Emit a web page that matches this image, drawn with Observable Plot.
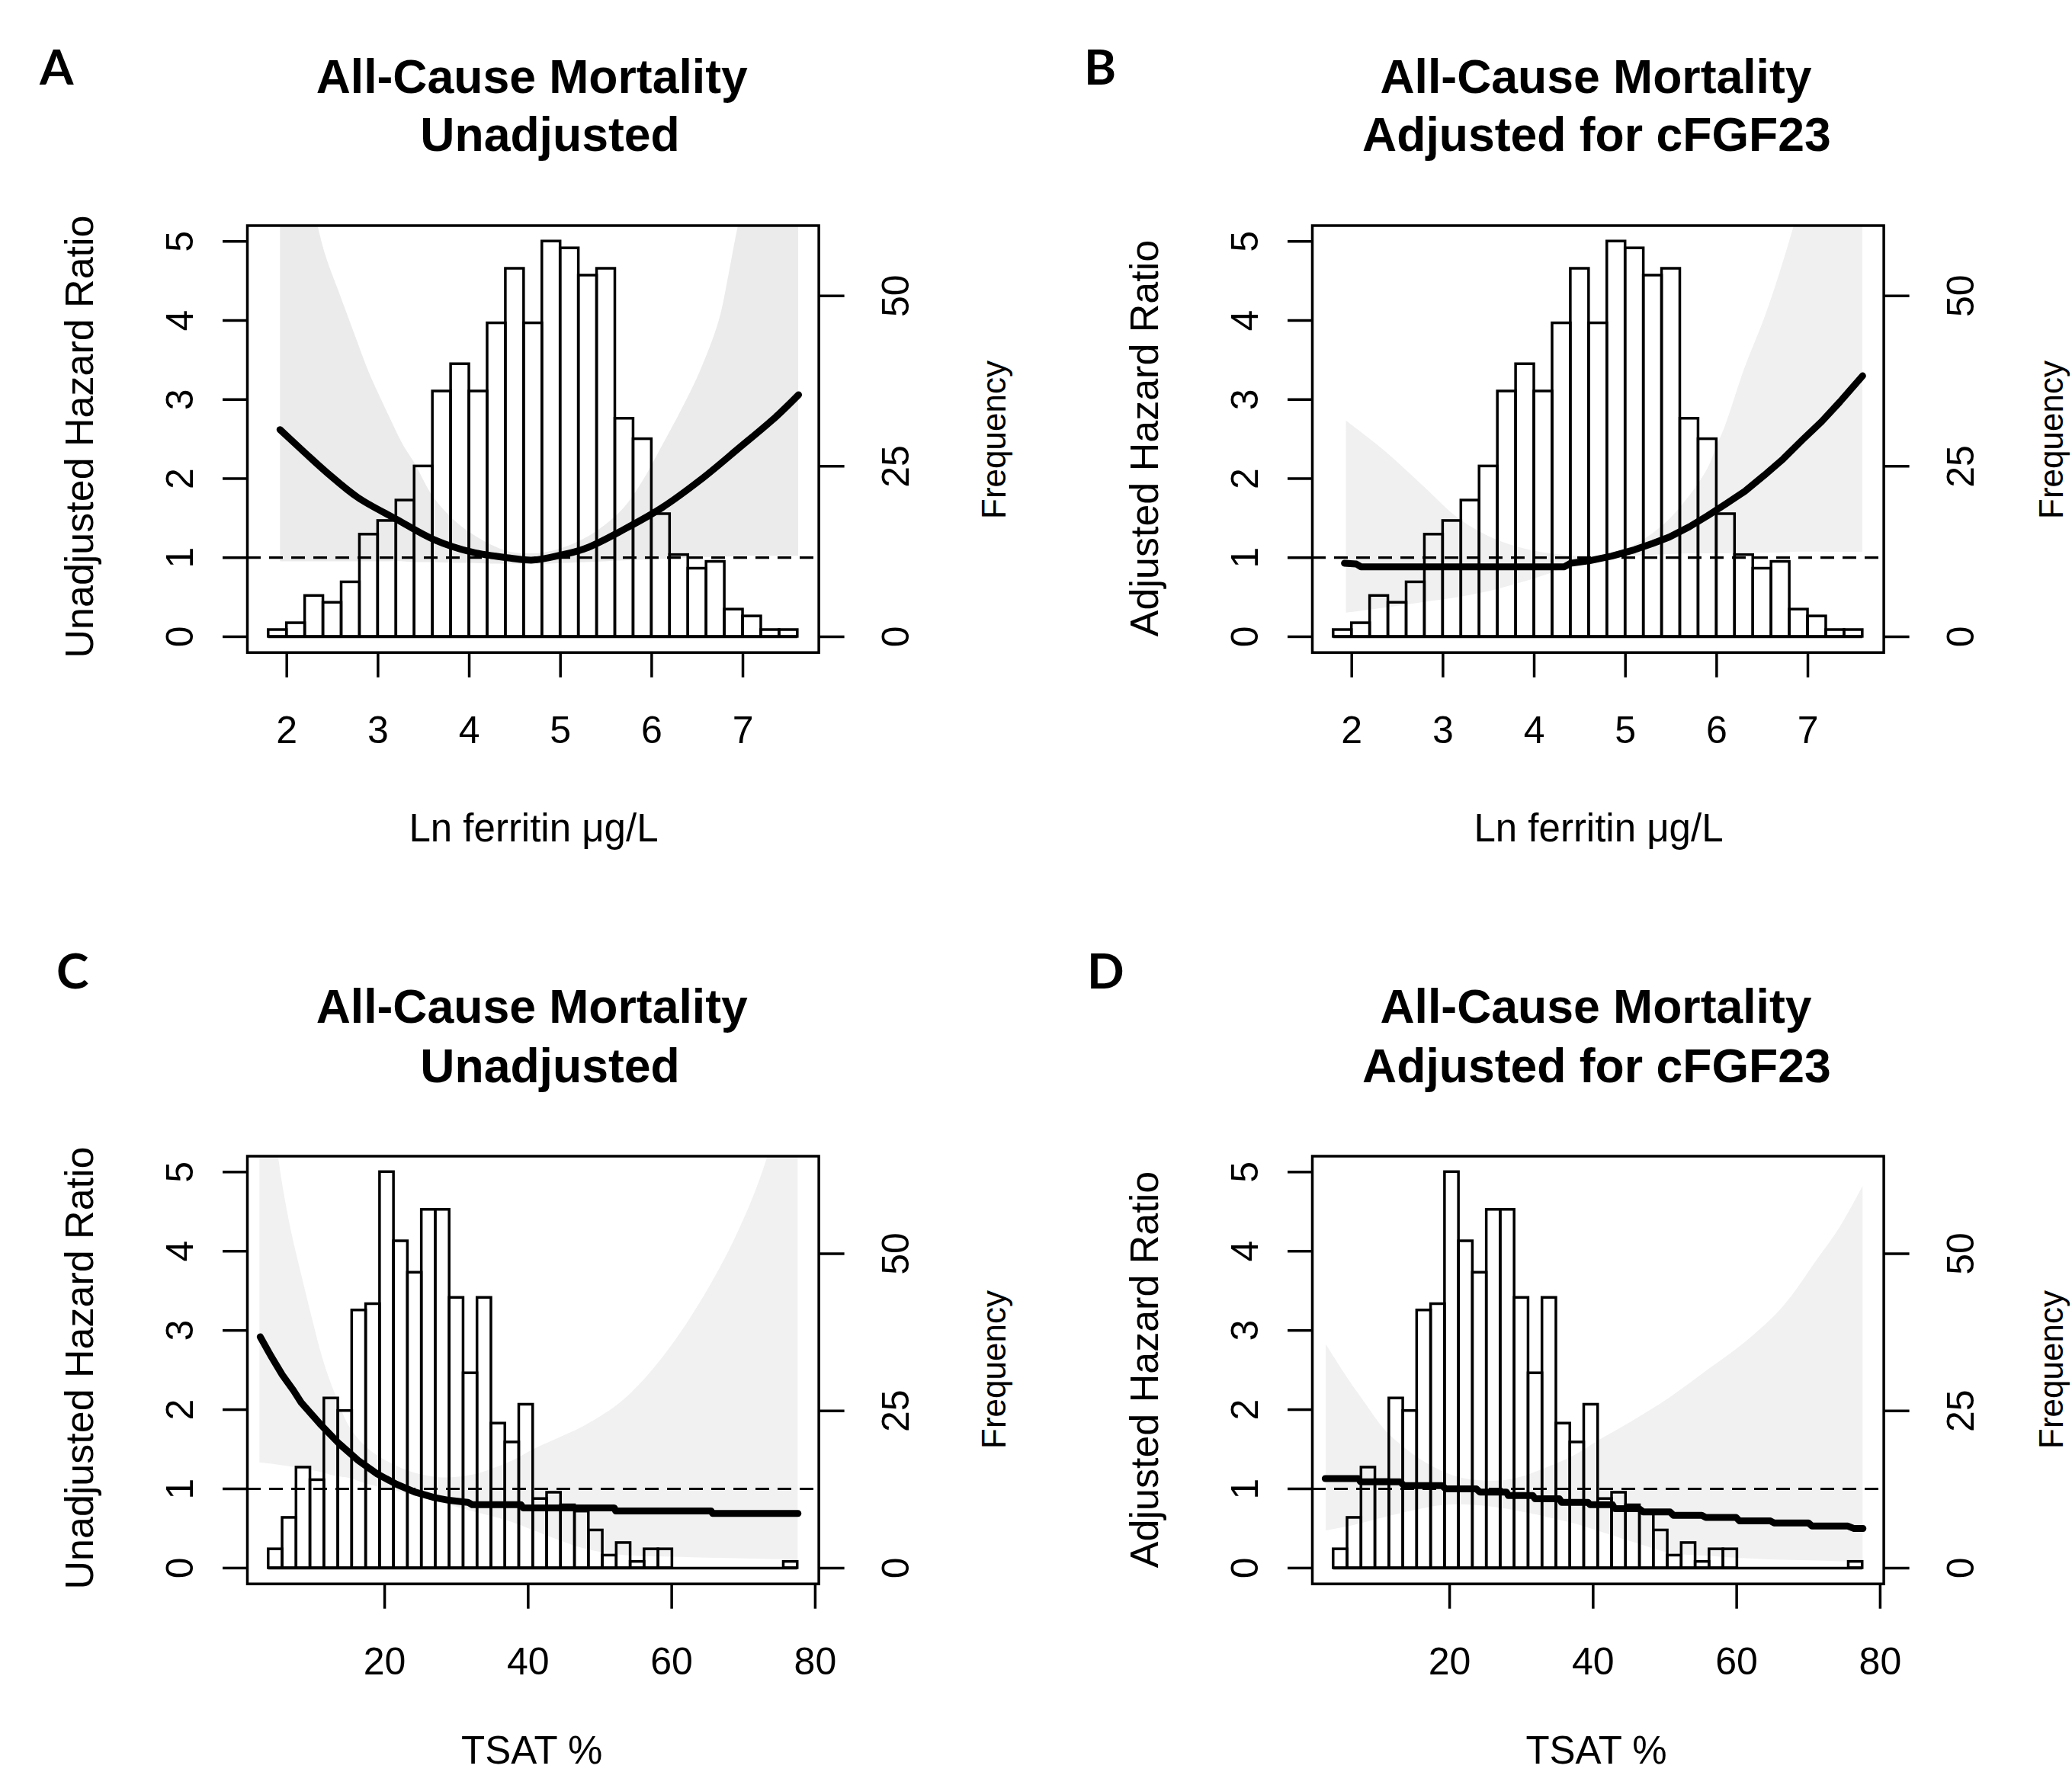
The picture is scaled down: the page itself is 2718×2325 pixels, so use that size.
<!DOCTYPE html>
<html>
<head>
<meta charset="utf-8">
<script src="https://cdn.jsdelivr.net/npm/d3@7"></script>
<script src="https://cdn.jsdelivr.net/npm/@observablehq/plot@0.6"></script>
<style>
html, body { margin: 0; padding: 0; background: #fff; }
#fig { position: relative; width: 2718px; height: 2325px; overflow: hidden; background: #fff; }
#fig > svg { position: absolute; }
</style>
</head>
<body>
<div id="fig"></div>
<script>
// ---------- data ----------
const hrTicks = [0, 1, 2, 3, 4, 5];
const freqTicks = [0, 25, 50];
const ferritinTicks = [2, 3, 4, 5, 6, 7];
const tsatTicks = [20, 40, 60, 80];

// histograms (counts)
const ferritinBinStart = 1.8, ferritinBinWidth = 0.2;
const ferritinCounts = [1, 2, 6, 5, 8, 15, 17, 20, 25, 36, 40, 36, 46, 54, 46, 58, 57, 53, 54, 32, 29, 18, 12, 10, 11, 4, 3, 1, 1];
const tsatBinStart = 3.82, tsatBinWidth = 1.94;
const tsatCounts = [3, 8, 16, 14, 27, 25, 41, 42, 63, 52, 47, 57, 57, 43, 31, 43, 23, 20, 26, 11, 12, 10, 9, 6, 2, 4, 1, 3, 3, 0, 0, 0, 0, 0, 0, 0, 0, 1];

// A: unadjusted, ferritin
const curveA_x  = [1.925, 2.196, 2.446, 2.78, 3.196, 3.61, 4.03, 4.45, 4.70, 4.99, 5.28, 5.70, 6.11, 6.53, 6.95, 7.36, 7.61];
const curveA_hr = [2.62, 2.33, 2.07, 1.76, 1.49, 1.23, 1.07, 0.995, 0.97, 1.03, 1.12, 1.36, 1.63, 1.98, 2.38, 2.78, 3.06];
const bandA_x  = [1.93, 2.10, 2.34, 2.43, 2.57, 2.74, 2.90, 3.11, 3.28, 3.40, 3.61, 3.82, 4.03, 4.24, 4.45, 4.70, 4.86, 5.07, 5.28, 5.49, 5.70, 5.90, 6.11, 6.32, 6.53, 6.74, 6.85, 6.95, 7.20, 7.61];
const bandA_hi = [8.0, 6.4, 5.2, 4.81, 4.37, 3.84, 3.35, 2.82, 2.42, 2.20, 1.76, 1.49, 1.30, 1.16, 1.07, 1.05, 1.07, 1.14, 1.25, 1.41, 1.63, 1.96, 2.40, 2.85, 3.35, 4.00, 4.60, 5.20, 6.40, 8.50];
const bandA_lo = [0.95, 0.95, 0.95, 0.95, 0.95, 0.95, 0.95, 0.95, 0.95, 0.94, 0.94, 0.93, 0.93, 0.92, 0.92, 0.92, 0.92, 0.93, 0.94, 0.95, 0.96, 0.97, 0.98, 0.99, 1.00, 1.01, 1.01, 1.02, 1.02, 1.02];

// B: adjusted, ferritin
const curveB_x  = [1.92, 2.05, 2.10, 4.33, 4.40, 4.60, 4.85, 5.10, 5.30, 5.48, 5.70, 5.90, 6.10, 6.31, 6.52, 6.73, 6.94, 7.15, 7.35, 7.60];
const curveB_hr = [0.93, 0.92, 0.885, 0.885, 0.93, 0.96, 1.02, 1.10, 1.18, 1.26, 1.39, 1.53, 1.68, 1.84, 2.04, 2.25, 2.49, 2.72, 2.97, 3.30];
const bandB_x  = [1.94, 2.35, 2.77, 3.19, 3.60, 4.02, 4.44, 4.70, 4.85, 5.07, 5.27, 5.48, 5.69, 5.90, 6.00, 6.10, 6.31, 6.52, 6.69, 6.85, 7.20, 7.60];
const bandB_hi = [2.73, 2.36, 1.92, 1.48, 1.22, 1.08, 1.02, 1.01, 1.05, 1.14, 1.28, 1.48, 1.76, 2.12, 2.40, 2.68, 3.40, 4.01, 4.59, 5.20, 6.60, 8.50];
const bandB_lo = [0.30, 0.36, 0.43, 0.50, 0.60, 0.74, 0.90, 0.97, 1.00, 1.02, 1.03, 1.04, 1.05, 1.05, 1.05, 1.05, 1.06, 1.06, 1.06, 1.07, 1.07, 1.07];

// C: unadjusted, TSAT
const curveC_x  = [2.66, 4.14, 5.73, 7.31, 8.37, 11.0, 13.66, 16.3, 18.94, 21.6, 24.2, 26.9, 29.0, 31.6, 32.2, 39.0, 39.3, 52.0, 52.2, 65.5, 65.7, 77.6];
const curveC_hr = [2.92, 2.68, 2.44, 2.24, 2.09, 1.82, 1.57, 1.36, 1.19, 1.06, 0.96, 0.89, 0.855, 0.83, 0.80, 0.80, 0.76, 0.76, 0.72, 0.72, 0.69, 0.69];
const bandC_x  = [2.6, 4.5, 5.2, 6.8, 8.4, 10.0, 11.5, 13.1, 15.2, 17.9, 21.6, 24.2, 28.0, 32.0, 35.0, 38.0, 40.6, 44.0, 48.0, 53.3, 58.6, 63.9, 69.2, 73.4, 77.6];
const bandC_hi = [9.0, 6.0, 5.2, 4.34, 3.71, 3.12, 2.61, 2.20, 1.77, 1.49, 1.29, 1.20, 1.14, 1.17, 1.25, 1.36, 1.49, 1.63, 1.80, 2.12, 2.64, 3.34, 4.23, 5.2, 6.8];
const bandC_lo = [1.33, 1.31, 1.30, 1.28, 1.26, 1.23, 1.20, 1.16, 1.13, 1.05, 0.97, 0.91, 0.82, 0.72, 0.65, 0.57, 0.48, 0.36, 0.24, 0.16, 0.14, 0.13, 0.12, 0.11, 0.10];

// D: adjusted, TSAT
const curveD_x  = [2.66, 7.31, 7.58, 13.1, 13.66, 18.94, 19.47, 23.7, 24.2, 27.9, 28.2, 31.6, 31.9, 35.3, 35.6, 39.3, 39.56, 42.7, 43.0, 46.4, 46.96, 50.7, 51.2, 55.15, 55.7, 59.9, 60.4, 64.7, 65.2, 70.0, 70.5, 75.5, 76.3, 77.6];
const curveD_hr = [1.13, 1.13, 1.09, 1.09, 1.04, 1.04, 1.00, 1.00, 0.96, 0.96, 0.915, 0.915, 0.875, 0.875, 0.83, 0.83, 0.80, 0.80, 0.75, 0.75, 0.71, 0.71, 0.665, 0.665, 0.64, 0.64, 0.595, 0.595, 0.57, 0.57, 0.53, 0.53, 0.50, 0.50];
const bandD_x  = [2.8, 5.7, 8.4, 11.0, 13.7, 16.3, 19.0, 22.0, 26.9, 30.0, 32.2, 35.0, 37.4, 40.6, 45.4, 50.7, 56.0, 61.2, 66.5, 71.3, 74.4, 77.6];
const bandD_hi = [2.82, 2.41, 2.06, 1.74, 1.52, 1.35, 1.22, 1.13, 1.10, 1.15, 1.22, 1.32, 1.42, 1.60, 1.85, 2.15, 2.50, 2.85, 3.30, 3.90, 4.30, 4.82];
const bandD_lo = [0.47, 0.52, 0.58, 0.64, 0.70, 0.75, 0.79, 0.80, 0.76, 0.71, 0.67, 0.61, 0.56, 0.47, 0.33, 0.19, 0.15, 0.12, 0.10, 0.09, 0.08, 0.07];

// ---------- helpers ----------
const FONT = "'Liberation Sans', Arial, sans-serif";
function rows(xs, ...cols) {
  return xs.map((x, i) => { const r = {x}; cols.forEach(([k, a]) => r[k] = a[i]); return r; });
}
function histRows(start, width, counts, maxCount) {
  return counts.map((c, i) => ({x1: start + i * width, x2: start + (i + 1) * width, c, h: c * 5 / maxCount}))
               .filter(d => d.c > 0);
}

function panel(opt) {
  const W = 1280, H = 820;
  const frameTop = opt.frameTop, frameBottom = opt.frameBottom;
  const mt = 95.5;
  const mb = H - mt - (frameBottom - frameTop);
  const maxCount = d3.max(opt.counts);
  const bins = histRows(opt.binStart, opt.binWidth, opt.counts, maxCount);
  const histEnd = opt.binStart + opt.counts.length * opt.binWidth;
  const chart = Plot.plot({
    width: W, height: H,
    marginLeft: 324, marginRight: W - 1073.6, marginTop: mt, marginBottom: mb,
    x: {domain: opt.xDomain},
    y: {domain: [-0.2, 5.2]},
    style: {background: "transparent", fontFamily: FONT, color: "black", overflow: "visible"},
    marks: [
      Plot.areaY(opt.band, {x: "x", y1: "lo", y2: "hi", fill: opt.bandFill, curve: "catmull-rom", clip: true}),
      Plot.rect(bins, {x1: "x1", x2: "x2", y1: 0, y2: "h", fill: "none", stroke: "black", strokeWidth: 3.5}),
      Plot.ruleY([0], {x1: opt.binStart, x2: histEnd, stroke: "black", strokeWidth: 3.5}),
      Plot.ruleY([1], {stroke: "black", strokeWidth: 3.2, strokeDasharray: "18,11"}),
      Plot.line(opt.curve, {x: "x", y: "hr", stroke: "black", strokeWidth: 9, curve: opt.curveType, strokeLinecap: "round", strokeLinejoin: "round"}),
      Plot.frame({stroke: "black", strokeWidth: 3.5}),
      Plot.axisX({ticks: opt.xTicks, tickSize: 33, tickPadding: 50, fontSize: 50, label: null, strokeWidth: 3.5, tickFormat: d => String(d)}),
      Plot.axisY({anchor: "left", ticks: hrTicks, tickSize: 32, tickFormat: () => "", label: null, strokeWidth: 3.5}),
      Plot.text(hrTicks, {y: d => d, text: d => String(d), frameAnchor: "left", textAnchor: "middle", lineAnchor: "middle", dx: -88, rotate: -90, fontSize: 50}),
      Plot.axisY({anchor: "right", ticks: freqTicks.map(c => c * 5 / maxCount), tickSize: 33, tickFormat: () => "", label: null, strokeWidth: 3.5}),
      Plot.text(freqTicks, {y: c => c * 5 / maxCount, text: c => String(c), frameAnchor: "right", textAnchor: "middle", lineAnchor: "middle", dx: 102, rotate: -90, fontSize: 50})
    ]
  });
  chart.style.left = opt.left + "px";
  chart.style.top = (frameTop - mt) + "px";
  document.getElementById("fig").appendChild(chart);
}

const ferritinDomain = [1.568, 7.832];
const tsatDomain = [0.87, 80.5];

panel({left: 0, frameTop: 295.5, frameBottom: 855.7, xDomain: ferritinDomain, xTicks: ferritinTicks,
  binStart: ferritinBinStart, binWidth: ferritinBinWidth, counts: ferritinCounts,
  curve: rows(curveA_x, ["hr", curveA_hr]), curveType: "catmull-rom",
  band: rows(bandA_x, ["lo", bandA_lo], ["hi", bandA_hi]), bandFill: "#ebebeb"});
panel({left: 1397, frameTop: 295.5, frameBottom: 855.7, xDomain: ferritinDomain, xTicks: ferritinTicks,
  binStart: ferritinBinStart, binWidth: ferritinBinWidth, counts: ferritinCounts,
  curve: rows(curveB_x, ["hr", curveB_hr]), curveType: "linear",
  band: rows(bandB_x, ["lo", bandB_lo], ["hi", bandB_hi]), bandFill: "#f0f0f0"});
panel({left: 0, frameTop: 1516, frameBottom: 2077.2, xDomain: tsatDomain, xTicks: tsatTicks,
  binStart: tsatBinStart, binWidth: tsatBinWidth, counts: tsatCounts,
  curve: rows(curveC_x, ["hr", curveC_hr]), curveType: "linear",
  band: rows(bandC_x, ["lo", bandC_lo], ["hi", bandC_hi]), bandFill: "#f1f1f1"});
panel({left: 1397, frameTop: 1516, frameBottom: 2077.2, xDomain: tsatDomain, xTicks: tsatTicks,
  binStart: tsatBinStart, binWidth: tsatBinWidth, counts: tsatCounts,
  curve: rows(curveD_x, ["hr", curveD_hr]), curveType: "linear",
  band: rows(bandD_x, ["lo", bandD_lo], ["hi", bandD_hi]), bandFill: "#f1f1f1"});

// ---------- titles and axis labels ----------
const panelLetters = [
  {t: "A", x: 52, y: 111}, {t: "B", x: 1422, y: 111},
  {t: "C", x: 74, y: 1297}, {t: "D", x: 1426, y: 1297}
];
const titleLines = [
  {t: "All-Cause Mortality", x: 697.7, y: 122}, {t: "Unadjusted", x: 721.5, y: 198},
  {t: "All-Cause Mortality", x: 2093.5, y: 122}, {t: "Adjusted for cFGF23", x: 2094.4, y: 198},
  {t: "All-Cause Mortality", x: 697.7, y: 1342}, {t: "Unadjusted", x: 721.5, y: 1420},
  {t: "All-Cause Mortality", x: 2093.5, y: 1342}, {t: "Adjusted for cFGF23", x: 2094.4, y: 1420}
];
const yLabels = [
  {t: "Unadjusted Hazard Ratio", x: 122, y: 573}, {t: "Adjusted Hazard Ratio", x: 1519, y: 575},
  {t: "Unadjusted Hazard Ratio", x: 122, y: 1795}, {t: "Adjusted Hazard Ratio", x: 1519, y: 1797}
];
const freqLabels = [
  {t: "Frequency", x: 1319, y: 577}, {t: "Frequency", x: 2706, y: 577},
  {t: "Frequency", x: 1319, y: 1797}, {t: "Frequency", x: 2706, y: 1797}
];
const xLabels = [
  {t: "Ln ferritin μg/L", x: 700, y: 1104}, {t: "Ln ferritin μg/L", x: 2097, y: 1104},
  {t: "TSAT %", x: 697.7, y: 2314}, {t: "TSAT %", x: 2094, y: 2314}
];

const svg = d3.select("#fig").append("svg")
  .attr("width", 2718).attr("height", 2325)
  .style("left", "0px").style("top", "0px")
  .attr("font-family", FONT);

svg.selectAll("text.letter").data(panelLetters).join("text")
  .attr("x", d => d.x).attr("y", d => d.y)
  .attr("font-family", "Lato, 'Open Sans', sans-serif").attr("font-weight", 700).attr("font-size", 64)
  .text(d => d.t);
svg.selectAll("text.title").data(titleLines).join("text")
  .attr("x", d => d.x).attr("y", d => d.y).attr("text-anchor", "middle")
  .attr("font-weight", 700).attr("font-size", 62.5)
  .text(d => d.t);
svg.selectAll("text.ylab").data(yLabels).join("text")
  .attr("transform", d => `translate(${d.x},${d.y}) rotate(-90)`).attr("text-anchor", "middle")
  .attr("font-size", 52)
  .text(d => d.t);
svg.selectAll("text.flab").data(freqLabels).join("text")
  .attr("transform", d => `translate(${d.x},${d.y}) rotate(-90)`).attr("text-anchor", "middle")
  .attr("font-size", 44)
  .text(d => d.t);
svg.selectAll("text.xlab").data(xLabels).join("text")
  .attr("x", d => d.x).attr("y", d => d.y).attr("text-anchor", "middle")
  .attr("font-size", 51)
  .text(d => d.t);
</script>
</body>
</html>
